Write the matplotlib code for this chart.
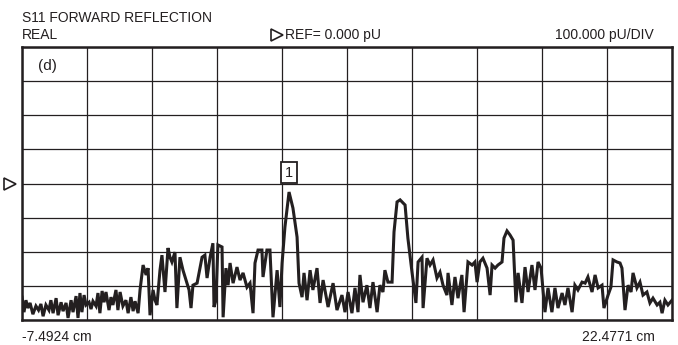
import numpy as np
import matplotlib
matplotlib.use("Agg")
import matplotlib.pyplot as plt
import matplotlib.transforms as mtransforms

# SWEEP SETTINGS (cm along x, pU along y)
x_start = -7.4924
x_stop = 22.4771
ref_value = 0.0
per_div = 100.0
n_xdiv = 10
n_ydiv = 8

# TRACE (cm, pU)
trace_x = [
    -7.49, -7.40, -7.31, -7.22, -7.12, -6.99, -6.85, -6.73, -6.62, -6.52,
    -6.39, -6.25, -6.16, -6.06, -5.92, -5.83, -5.69, -5.60, -5.46, -5.37,
    -5.23, -5.14, -5.00, -4.91, -4.82, -4.73, -4.63, -4.54, -4.40, -4.31,
    -4.22, -4.08, -3.99, -3.90, -3.80, -3.71, -3.62, -3.48, -3.39, -3.30,
    -3.16, -3.07, -2.97, -2.84, -2.70, -2.60, -2.47, -2.37, -2.28, -2.14,
    -2.05,
    -1.91, -1.77, -1.68, -1.59, -1.45, -1.36, -1.27, -1.13, -1.04, -0.90,
    -0.76, -0.67, -0.58, -0.44, -0.35, -0.21, -0.07, 0.07, 0.21, 0.30,
    0.39, 0.58, 0.81, 0.94, 1.04, 1.18, 1.31, 1.36, 1.45, 1.54,
    1.73, 1.78, 1.91, 2.01,
    2.10, 2.24, 2.42, 2.56, 2.70, 2.88, 3.02, 3.16, 3.25, 3.39,
    3.57, 3.62, 3.80, 3.94, 4.08, 4.27, 4.40, 4.50, 4.63, 4.82,
    5.00, 5.19, 5.28, 5.42, 5.51, 5.65, 5.79, 5.92, 6.11, 6.25,
    6.39, 6.62, 6.85, 7.03,
    7.26, 7.40, 7.54, 7.72, 7.86, 8.00, 8.09, 8.23, 8.41, 8.55,
    8.69, 8.88, 9.01, 9.15, 9.24, 9.38, 9.57, 9.66, 9.80, 9.94,
    10.17, 10.30, 10.49, 10.67, 10.77, 10.95, 11.00, 11.18, 11.32, 11.46,
    11.64, 11.78, 11.92,
    12.10, 12.15, 12.33, 12.47, 12.61, 12.79, 12.89, 13.07, 13.26, 13.39,
    13.49, 13.62, 13.76, 13.95, 14.09, 14.18, 14.32, 14.45, 14.64, 14.73,
    14.87, 15.01, 15.15, 15.28, 15.38, 15.56, 15.70, 15.84, 16.02, 16.16,
    16.30, 16.44, 16.62,
    16.76, 16.94, 17.08, 17.22, 17.41, 17.54, 17.68, 17.87, 18.00, 18.14,
    18.33, 18.47, 18.60, 18.79, 18.93, 19.07, 19.25, 19.34, 19.53, 19.66,
    19.76, 19.94, 20.08, 20.17, 20.31, 20.45, 20.59, 20.68, 20.86, 21.00,
    21.14, 21.32, 21.46, 21.60, 21.79, 21.92, 22.02, 22.15, 22.29, 22.4771,
]
trace_y = [
    -333, -377, -342, -365, -350, -383, -359, -371, -353, -389,
    -356, -371, -342, -380, -336, -386, -348, -374, -350, -394,
    -342, -377, -330, -394, -321, -377, -327, -356, -348, -368,
    -345, -359, -321, -380, -315, -348, -318, -371, -333, -356,
    -312, -371, -318, -359, -342, -380, -333, -374, -345, -380,
    -312,
    -239, -268, -248, -386, -312, -342, -356, -254, -210, -318,
    -189, -216, -230, -201, -365, -216, -254, -283, -312, -365,
    -298, -292, -216, -210, -277, -216, -175, -362, -342, -180,
    -186, -392, -248, -298,
    -233, -292, -245, -283, -262, -304, -292, -380, -233, -195,
    -195, -274, -195, -195, -392, -254, -362, -233, -128, -25,
    -72, -157, -292, -333, -262, -342, -254, -312, -248, -350,
    -283, -362, -292, -371,
    -327, -377, -318, -380, -306, -377, -268, -348, -298, -365,
    -289, -377, -298, -318, -254, -289, -289, -142, -54, -48,
    -63, -160, -260, -350, -230, -216, -365, -219, -239, -224,
    -277, -260, -298,
    -327, -262, -356, -274, -336, -268, -377, -230, -239, -230,
    -289, -230, -219, -248, -327, -239, -248, -239, -230, -160,
    -139, -151, -166, -348, -262, -350, -245, -318, -239, -312,
    -230, -248, -377,
    -306, -377, -306, -365, -321, -356, -306, -377, -298, -312,
    -289, -292, -274, -318, -268, -306, -298, -365, -327, -304,
    -224, -230, -233, -248, -371, -298, -318, -262, -306, -289,
    -327, -318, -350, -336, -356, -348, -380, -342, -356, -342,
]

# MARKER 1 POSITION (cm, pU)
marker_x = 4.82
marker_label_y = 32

plt.rcParams['font.family'] = ['Liberation Sans', 'DejaVu Sans']
ink = '#231f20'

fig = plt.figure(figsize=(6.78, 3.45), dpi=100)
ax = fig.add_axes([22 / 678, 25 / 345, 650 / 678, 273 / 345])

ax.set_xlim(x_start, x_stop)
ax.set_ylim(ref_value - per_div * n_ydiv / 2, ref_value + per_div * n_ydiv / 2)
ax.set_xticks(np.linspace(x_start, x_stop, n_xdiv + 1))
ax.set_yticks(np.linspace(ref_value - per_div * n_ydiv / 2,
                          ref_value + per_div * n_ydiv / 2, n_ydiv + 1))
ax.tick_params(length=0, labelbottom=False, labelleft=False)
ax.grid(True, color=ink, linewidth=0.9)
for sp in ax.spines.values():
    sp.set_linewidth(1.8)
    sp.set_color(ink)

# THE TRACE
ax.plot(trace_x, trace_y, color=ink, linewidth=2.2, solid_joinstyle='miter')

# MARKER BOX
ax.text(marker_x, marker_label_y, "1", ha='center', va='center', fontsize=10.5,
        color=ink,
        bbox=dict(boxstyle='square,pad=0.25', facecolor='white',
                  edgecolor=ink, linewidth=1.3))

# REFERENCE POSITION ARROW ON THE LEFT
trans = mtransforms.blended_transform_factory(ax.transAxes, ax.transData)
ax.plot([-0.019], [ref_value], marker='>', markersize=9, markerfacecolor='white',
        markeredgecolor=ink, markeredgewidth=1.2, transform=trans, clip_on=False)

ax.text(0.025, 0.93, "(d)", transform=ax.transAxes, ha='left', va='center',
        fontsize=11, color=ink)

# HEADER AND FOOTER TEXT
fig.text(22 / 678, 1 - 18 / 345, "S11 FORWARD REFLECTION", ha='left', va='center',
         fontsize=10, color=ink)
fig.text(22 / 678, 1 - 35 / 345, "REAL", ha='left', va='center',
         fontsize=10, color=ink)
fig.text(285 / 678, 1 - 35 / 345, "REF= 0.000 pU", ha='left', va='center',
         fontsize=10, color=ink)
fig.lines.append(plt.Line2D([277 / 678], [1 - 35 / 345], marker='>', markersize=9,
                            markerfacecolor='white', markeredgecolor=ink,
                            markeredgewidth=1.2, transform=fig.transFigure))
fig.text(654 / 678, 1 - 35 / 345, "100.000 pU/DIV", ha='right', va='center',
         fontsize=10, color=ink)
fig.text(22 / 678, 1 - 337 / 345, "-7.4924 cm", ha='left', va='center',
         fontsize=10, color=ink)
fig.text(655 / 678, 1 - 337 / 345, "22.4771 cm", ha='right', va='center',
         fontsize=10, color=ink)

fig.savefig("out.png", dpi=100)
